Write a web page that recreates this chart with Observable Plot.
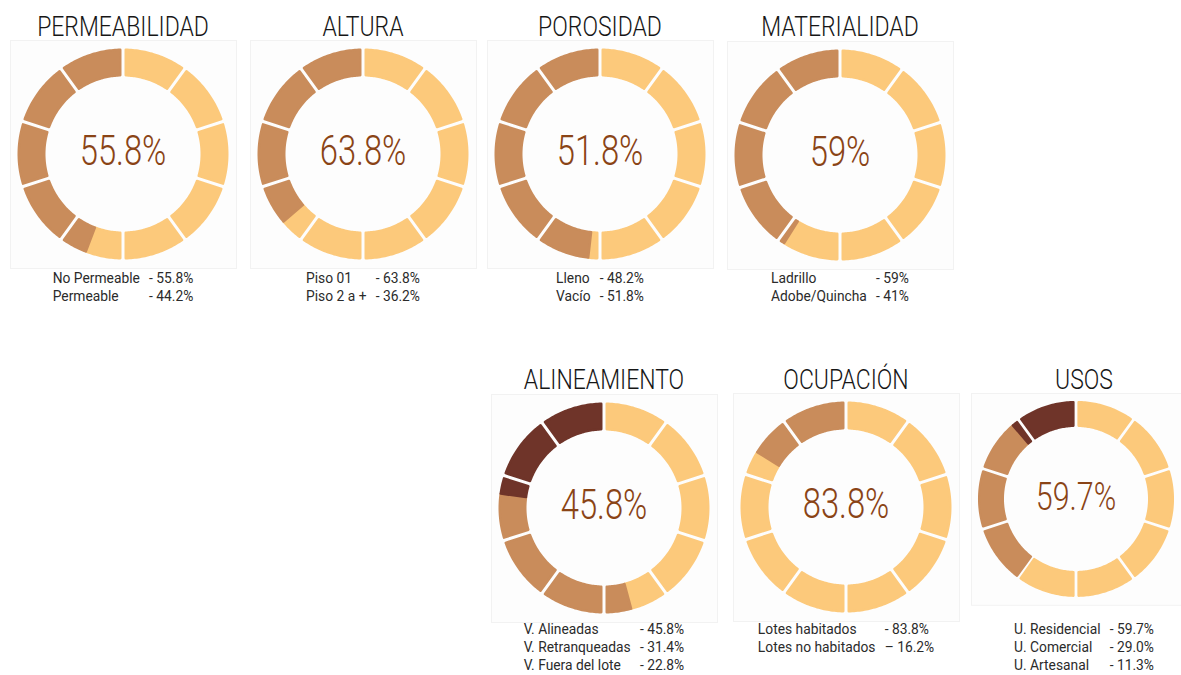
<!DOCTYPE html>
<html>
<head>
<meta charset="utf-8">
<script src="https://cdn.jsdelivr.net/npm/d3@7"></script>
<script src="https://cdn.jsdelivr.net/npm/@observablehq/plot@0.6"></script>
<style>
  html, body { margin: 0; padding: 0; background: #ffffff; }
  body { position: relative; width: 1181px; height: 675px; overflow: hidden;
         font-family: Roboto, "Liberation Sans", sans-serif; }
  .title { position: absolute; font-size: 28px; font-weight: 300; color: #161616;
           transform: translate(-50%, -50%) scaleX(0.82); white-space: nowrap; }
  .chart { position: absolute; }
  .legend { position: absolute; display: grid; grid-template-columns: auto auto; column-gap: 10px;
            font-size: 15px; font-weight: 400; line-height: 18px; color: #2b2b2b;
            transform: translateX(-50%) scaleX(0.92); white-space: nowrap; }
</style>
</head>
<body>
<script>
// ---------- data ----------
const titles = ["PERMEABILIDAD", "ALTURA", "POROSIDAD", "MATERIALIDAD", "ALINEAMIENTO", "OCUPACIÓN", "USOS"];

const labelsPermeabilidad = ["No Permeable", "Permeable"];
const valuesPermeabilidad = [55.8, 44.2];
const labelsAltura = ["Piso 01", "Piso 2 a +"];
const valuesAltura = [63.8, 36.2];
const labelsPorosidad = ["Lleno", "Vacío"];
const valuesPorosidad = [48.2, 51.8];
const labelsMaterialidad = ["Ladrillo", "Adobe/Quincha"];
const valuesMaterialidad = [59, 41];
const labelsAlineamiento = ["V. Alineadas", "V. Retranqueadas", "V. Fuera del lote"];
const valuesAlineamiento = [45.8, 31.4, 22.8];
const labelsOcupacion = ["Lotes habitados", "Lotes no habitados"];
const valuesOcupacion = [83.8, 16.2];
const labelsUsos = ["U. Residencial", "U. Comercial", "U. Artesanal"];
const valuesUsos = [59.7, 29.0, 11.3];

const decimals = [1, 1, 1, 0, 1, 1, 1];
// index of the category shown in the centre (drawn first, clockwise from the top)
const highlighted = [0, 0, 1, 0, 0, 0, 0];
const dashes = [["-", "-"], ["-", "-"], ["-", "-"], ["-", "-"], ["-", "-", "-"], ["-", "–"], ["-", "-", "-"]];

const allLabels = [labelsPermeabilidad, labelsAltura, labelsPorosidad, labelsMaterialidad, labelsAlineamiento, labelsOcupacion, labelsUsos];
const allValues = [valuesPermeabilidad, valuesAltura, valuesPorosidad, valuesMaterialidad, valuesAlineamiento, valuesOcupacion, valuesUsos];

// ---------- layout & style (kept apart from data) ----------
const layout = [
  {cx: 122.5, cy: 153.5, ty: 26, ly: 269},
  {cx: 363, cy: 153.5, ty: 26, ly: 269},
  {cx: 600, cy: 154, ty: 26, ly: 269},
  {cx: 839.5, cy: 154.5, ty: 26, ly: 269},
  {cx: 604, cy: 507.5, ty: 379, ly: 620},
  {cx: 846, cy: 507, ty: 379, ly: 620},
  {cx: 1084, cy: 506.5, ty: 379, ly: 620}
];
const colors = ["#fcc97b", "#c98c5b", "#6f3429"];
const textColor = "#8a4416";
const NSEG = 10, R_OUT = 105.5, R_IN = 77.5, GAP = 3, SW = 2.4;
const W = 226, H = 228;

function pieces(values, labels, main) {
  const order = [main, ...values.map((_, i) => i).filter(i => i !== main)];
  const total = d3.sum(values);
  let acc = 0;
  const ranges = order.map(i => {
    const a0 = acc / total * 360; acc += values[i];
    return {label: labels[i], a0, a1: acc / total * 360};
  });
  const Ro = R_OUT - SW / 2, Ri = R_IN + SW / 2, h = (GAP + SW) / 2;
  const dO = Math.asin(h / Ro) * 180 / Math.PI, dI = Math.asin(h / Ri) * 180 / Math.PI;
  const out = [];
  let pid = 0;
  for (let k = 0; k < NSEG; k++) {
    const s0 = k * 360 / NSEG, s1 = (k + 1) * 360 / NSEG;
    for (const c of ranges) {
      const b0 = Math.max(s0, c.a0), b1 = Math.min(s1, c.a1);
      if (b1 <= b0) continue;
      const g0 = Math.abs(b0 - s0) < 1e-9, g1 = Math.abs(b1 - s1) < 1e-9;
      const o0 = b0 + (g0 ? dO : 0), o1 = b1 - (g1 ? dO : 0);
      const i0 = b0 + (g0 ? dI : 0), i1 = b1 - (g1 ? dI : 0);
      if (o1 <= o0 || i1 <= i0) continue;
      const n = Math.max(2, Math.ceil((o1 - o0) / 1) + 1);
      for (let j = 0; j < n; j++) {
        const t = j / (n - 1);
        const ao = (o0 + (o1 - o0) * t) * Math.PI / 180;
        const ai = (i0 + (i1 - i0) * t) * Math.PI / 180;
        out.push({piece: pid, cat: c.label,
          x1: Ro * Math.sin(ao), y1: Ro * Math.cos(ao),
          x2: Ri * Math.sin(ai), y2: Ri * Math.cos(ai)});
      }
      pid++;
    }
  }
  return {data: out, domain: order.map(i => labels[i])};
}

titles.forEach((title, c) => {
  const L = layout[c], labels = allLabels[c], values = allValues[c], main = highlighted[c];
  const fmt = v => v.toFixed(decimals[c]) + "%";
  const {data, domain} = pieces(values, labels, main);

  const t = document.createElement("div");
  t.className = "title"; t.textContent = title;
  t.style.left = L.cx + "px"; t.style.top = L.ty + "px";
  document.body.appendChild(t);

  const plot = Plot.plot({
    width: W, height: H, margin: 0,
    x: {domain: [-W / 2, W / 2], axis: null},
    y: {domain: [-H / 2, H / 2], axis: null},
    color: {domain, range: colors.slice(0, domain.length)},
    style: {background: "transparent", overflow: "visible", fontFamily: 'Roboto, "Liberation Sans", sans-serif'},
    marks: [
      Plot.frame({stroke: "#f2f2f2", fill: "#fdfdfd"}),
      Plot.area(data, {x1: "x1", y1: "y1", x2: "x2", y2: "y2", z: "piece",
        fill: "cat", stroke: "cat", strokeWidth: SW, strokeLinejoin: "round"}),
      Plot.text([fmt(values[main])], {frameAnchor: "middle", text: d => d, fontSize: 42,
        fontWeight: 300, fill: textColor})
    ]
  });
  const tg = plot.querySelector('g[aria-label="text"]');
  if (tg) {
    tg.style.transformBox = "fill-box";
    tg.style.transformOrigin = "center";
    tg.style.transform = "translateY(-2px) scaleX(0.78)";
  }
  const wrap = document.createElement("div");
  wrap.className = "chart";
  wrap.style.left = (L.cx - W / 2) + "px";
  wrap.style.top = (L.cy - H / 2) + "px";
  wrap.appendChild(plot);
  document.body.appendChild(wrap);

  const lg = document.createElement("div");
  lg.className = "legend";
  lg.style.left = L.cx + "px"; lg.style.top = L.ly + "px";
  labels.forEach((lab, i) => {
    const a = document.createElement("span"); a.textContent = lab;
    const b = document.createElement("span"); b.textContent = dashes[c][i] + " " + fmt(values[i]);
    lg.appendChild(a); lg.appendChild(b);
  });
  document.body.appendChild(lg);
});
</script>
</body>
</html>
